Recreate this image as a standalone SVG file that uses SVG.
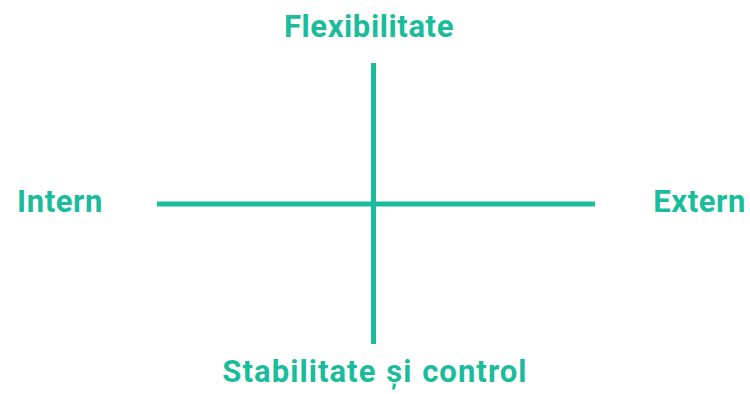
<svg xmlns="http://www.w3.org/2000/svg" width="750" height="394" viewBox="0 0 750 394">
<style>
.lbl{font-family:Roboto,"Liberation Sans",sans-serif;font-weight:700;font-size:31px;letter-spacing:0.6px;fill:#1ABC9C}
.wide{letter-spacing:1.05px;word-spacing:1px}
.ax{stroke:#1ABC9C;stroke-width:5;fill:none}
</style>
<rect width="750" height="394" fill="#fff"/>
<g id="connectors">
<line class="ax" x1="373.5" y1="63" x2="373.5" y2="344"/>
<line class="ax" x1="157" y1="204" x2="595" y2="204"/>
</g>
<g id="flexibilitate"><text class="lbl" x="369" y="37" text-anchor="middle">Flexibilitate</text></g>
<g id="intern"><text class="lbl" x="17" y="212">Intern</text></g>
<g id="extern"><text class="lbl" x="746" y="212" text-anchor="end">Extern</text></g>
<g id="stabilitate"><text class="lbl wide" x="375" y="382" text-anchor="middle">Stabilitate și control</text></g>
</svg>
